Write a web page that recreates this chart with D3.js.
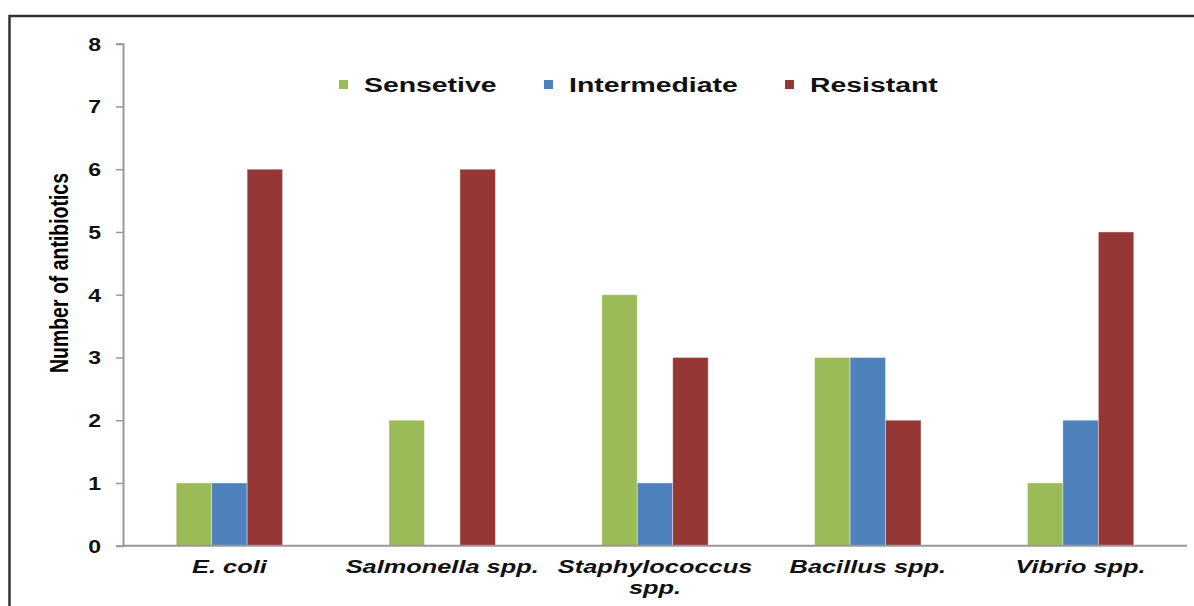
<!DOCTYPE html>
<html>
<head>
<meta charset="utf-8">
<script src="https://cdn.jsdelivr.net/npm/d3@7"></script>
<style>
  body { margin: 0; background: #fff; }
  text { font-family: "Liberation Sans", Arial, sans-serif; font-weight: bold; }
</style>
</head>
<body>
<script>
const width = 1194;
const height = 606;

// data
const categories = ["E. coli", "Salmonella spp.", "Staphylococcus spp.", "Bacillus spp.", "Vibrio spp."];
const categoryLines = [["E. coli"], ["Salmonella spp."], ["Staphylococcus", "spp."], ["Bacillus spp."], ["Vibrio spp."]];
const seriesNames = ["Sensetive", "Intermediate", "Resistant"];
const sensetive = [1, 2, 4, 3, 1];
const intermediate = [1, 0, 1, 3, 2];
const resistant = [6, 6, 3, 2, 5];
const yTicks = [0, 1, 2, 3, 4, 5, 6, 7, 8];

const colors = ["#9bbb59", "#4f81bd", "#953735"];
// text in the picture is widened
const tickStretch = 1.28;
const labelStretch = 1.45;
const legendStretch = 1.42;

const series = [sensetive, intermediate, resistant];
const rows = categories.map((c, i) => ({cat: c, values: series.map(s => s[i])}));

const svg = d3.select("body")
	.append("svg")
	.attr("width", width)
	.attr("height", height);

// outer frame (runs off the right and bottom)
svg.append("rect")
	.attr("x", 9.5)
	.attr("y", 16)
	.attr("width", width + 20)
	.attr("height", height + 20)
	.attr("fill", "none")
	.attr("stroke", "#333")
	.attr("stroke-width", 2.5);

const plotLeft = 123, plotRight = 1187, plotTop = 43.7, plotBottom = 545.7;

const xScale = d3.scaleBand()
	.domain(categories)
	.range([plotLeft, plotRight])
	.paddingInner(0.5)
	.paddingOuter(0.25);

const xInner = d3.scaleBand()
	.domain(seriesNames)
	.range([0, xScale.bandwidth()]);

const yScale = d3.scaleLinear()
	.domain([0, 8])
	.range([plotBottom, plotTop]);

// bars
const groups = svg.append("g")
	.selectAll("g")
	.data(rows)
	.enter()
	.append("g")
	.attr("transform", d => "translate(" + xScale(d.cat) + ",0)");

groups.selectAll("rect")
	.data(d => d.values.map((v, j) => ({name: seriesNames[j], v: v, j: j})).filter(b => b.v > 0))
	.enter()
	.append("rect")
	.attr("x", d => xInner(d.name))
	.attr("y", d => yScale(d.v))
	.attr("width", xInner.bandwidth())
	.attr("height", d => yScale(0) - yScale(d.v))
	.attr("fill", d => colors[d.j])
	.attr("stroke", "rgba(255,255,255,0.5)")
	.attr("stroke-width", 0.8);

// y axis
const yAxis = svg.append("g")
	.attr("transform", "translate(" + plotLeft + ",0)")
	.call(d3.axisLeft(yScale).tickValues(yTicks).tickFormat(d3.format("d")).tickSize(7).tickSizeOuter(7));

yAxis.select(".domain").attr("stroke", "#999").attr("stroke-width", 2);
yAxis.selectAll(".tick line").attr("stroke", "#999").attr("stroke-width", 1.5);
yAxis.selectAll(".tick text")
	.attr("x", -22 / tickStretch)
	.attr("dy", "0.36em")
	.attr("transform", "scale(" + tickStretch + ",1)")
	.attr("font-size", 18)
	.attr("font-weight", "bold")
	.attr("font-family", "Liberation Sans, Arial, sans-serif")
	.attr("fill", "#111");

// x axis line
svg.append("line")
	.attr("x1", plotLeft)
	.attr("x2", plotRight)
	.attr("y1", yScale(0))
	.attr("y2", yScale(0))
	.attr("stroke", "#999")
	.attr("stroke-width", 2);

// category labels
const xLabels = svg.append("g")
	.selectAll("text")
	.data(categories)
	.enter()
	.append("text")
	.attr("transform", d => "translate(" + (xScale(d) + xScale.bandwidth() / 2) + ",573) scale(" + labelStretch + ",1)")
	.attr("text-anchor", "middle")
	.attr("font-size", 17.5)
	.attr("font-style", "italic")
	.attr("fill", "#111");

xLabels.each(function(d, i) {
	const t = d3.select(this);
	categoryLines[i].forEach((line, k) => {
		t.append("tspan")
			.attr("x", 0)
			.attr("y", k * 21)
			.text(line);
	});
});

// y axis title
svg.append("text")
	.attr("transform", "translate(68,273) rotate(-90)")
	.attr("text-anchor", "middle")
	.attr("font-size", 25)
	.attr("textLength", 200)
	.attr("lengthAdjust", "spacingAndGlyphs")
	.attr("fill", "#000")
	.text("Number of antibiotics");

// legend
const legendX = [339, 544, 785];
const legend = svg.append("g")
	.selectAll("g")
	.data(seriesNames)
	.enter()
	.append("g")
	.attr("transform", (d, i) => "translate(" + legendX[i] + ",80)");

legend.append("rect")
	.attr("width", 9)
	.attr("height", 9)
	.attr("fill", (d, i) => colors[i]);

legend.append("text")
	.attr("transform", "translate(25,12) scale(" + legendStretch + ",1)")
	.attr("font-size", 20)
	.attr("fill", "#111")
	.text(d => d);
</script>
</body>
</html>
